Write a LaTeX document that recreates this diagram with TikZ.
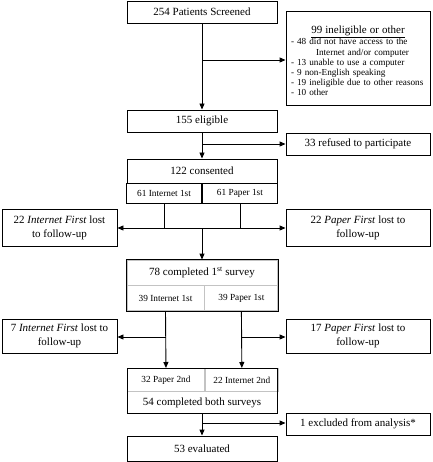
\documentclass[tikz,border=0pt]{standalone}
\usepackage{fontspec}
\setmainfont{Liberation Serif}
\usetikzlibrary{arrows.meta}
\usepackage{color}
\definecolor{divgray}{RGB}{195,195,195}

\begin{document}
\begin{tikzpicture}[x=1pt,y=-1pt,
    box/.style={draw, line width=0.9pt, inner sep=0pt, minimum width=150pt, minimum height=22pt, align=center,
                font=\fontsize{11}{14}\selectfont},
    sidebox/.style={box, minimum width=144pt},
    lostbox/.style={box, minimum width=115pt},
    cell/.style={draw, line width=0.9pt, inner sep=0pt, minimum width=75pt, minimum height=20pt,
                 font=\fontsize{9.3}{11}\selectfont},
    gcell/.style={cell, draw=divgray},
    link/.style={line width=0.9pt},
    arr/.style={link, -{Triangle[length=6pt,width=5pt]}}]
            \useasboundingbox (0,0) rectangle (432,462);
            \node[box]                                     (scr)    at (202, 12.0) {254 Patients Screened};
            \node[sidebox, minimum height=94pt, text width=134pt, align=left,
                  font=\fontsize{9.2}{10.2}\selectfont]    (inelig) at (358, 58.5)
                 {{\centering\fontsize{11}{13}\selectfont\rule{0pt}{12pt}\underline{99 ineligible or other}\par}
                  \mbox{- 48 did not have access to the}\\
                  \hspace*{25pt}\mbox{Internet and/or computer}\\
                  \mbox{- 13 unable to use a computer}\\
                  \mbox{- 9 non-English speaking}\\
                  \mbox{- 19 ineligible due to other reasons}\\
                  \mbox{- 10 other}};
            \node[box]                                     (elig)   at (202,121.0) {155 eligible};
            \node[sidebox]                                 (refu)   at (358,144.0) {33 refused to participate};
            \node[box, minimum height=24pt]                (cons)   at (202,171.0) {122 consented};
            \node[cell, anchor=north east]                 (consI)  at (cons.south) {61 Internet 1st};
            \node[cell, anchor=north west]                 (consP)  at (cons.south) {61 Paper 1st};
            \node[lostbox, minimum height=37pt]            (lostI1) at ( 59.5,227.5) {22 \textit{Internet First} lost\\to follow-up};
            \node[sidebox, minimum height=37pt]            (lostP1) at (358,227.5) {22 \textit{Paper First} lost to\\follow-up};
            \node[box, draw=divgray, minimum height=25pt]  (cmp)    at (202,272.5) {78 completed 1\textsuperscript{st} survey};
            \node[gcell, minimum width=77pt, minimum height=25pt, anchor=north west] (cmpI) at (cmp.south west) {39 Internet 1st};
            \node[gcell, minimum width=73pt, minimum height=25pt, anchor=north west] (cmpP) at (cmpI.north east) {39 Paper 1st};
            \node[lostbox, minimum height=34pt]            (lostI2) at ( 59.5,336.0) {7 \textit{Internet First} lost to\\follow-up};
            \node[sidebox, minimum height=34pt]            (lostP2) at (358,336.0) {17 \textit{Paper First} lost to\\follow-up};
            \node[gcell, minimum width=77pt, minimum height=23pt, anchor=north west] (bthP) at (127,368) {32 Paper 2nd};
            \node[gcell, minimum width=73pt, minimum height=23pt, anchor=north west] (bthI) at (bthP.north east) {22 Internet 2nd};
            \node[box, draw=divgray, anchor=north]         (bth)    at (202,391.0) {54 completed both surveys};
            \node[sidebox]                                 (excl)   at (358,424.0) {1 excluded from analysis*};
            \node[box, minimum height=25pt]                (eval)   at (202,448.5) {53 evaluated};
            % outer frames of the split boxes
            \draw[link] (cmp.north west)  rectangle (cmpP.south east);
            \draw[link] (bthP.north west) rectangle (bth.south east);
            % junctions
            \coordinate (j1) at (202, 60);
            \coordinate (j2) at (202,144);
            \coordinate (j3) at (202,228);
            \coordinate (j4) at (202,337);
            \coordinate (j5) at (202,423);
            \draw[arr]  (scr)  -- (elig);
            \draw[arr]  (j1)   -- (j1 -| inelig.west);
            \draw[arr]  (elig) -- (cons);
            \draw[arr]  (j2)   -- (j2 -| refu.west);
            \draw[link] (consI.south) -- (consI.south |- j3);
            \draw[link] (consP.south) -- (consP.south |- j3);
            \draw[arr]  (consI.south |- j3) -- (j3 -| lostI1.east);
            \draw[arr]  (consP.south |- j3) -- (j3 -| lostP1.west);
            \draw[link] (consI.south |- j3) -- (consP.south |- j3);
            \draw[arr]  (j3)   -- (cmp.north);
            \draw[arr]  (cmpI.south) -- (bthP.north);
            \draw[arr]  (cmpP.south) -- (bthI.north);
            \draw[arr]  (cmpI.south |- j4) -- (j4 -| lostI2.east);
            \draw[arr]  (cmpP.south |- j4) -- (j4 -| lostP2.west);
            \draw[arr]  (bth.south) -- (eval.north);
            \draw[arr]  (j5)   -- (j5 -| excl.west);
\end{tikzpicture}
\end{document}
